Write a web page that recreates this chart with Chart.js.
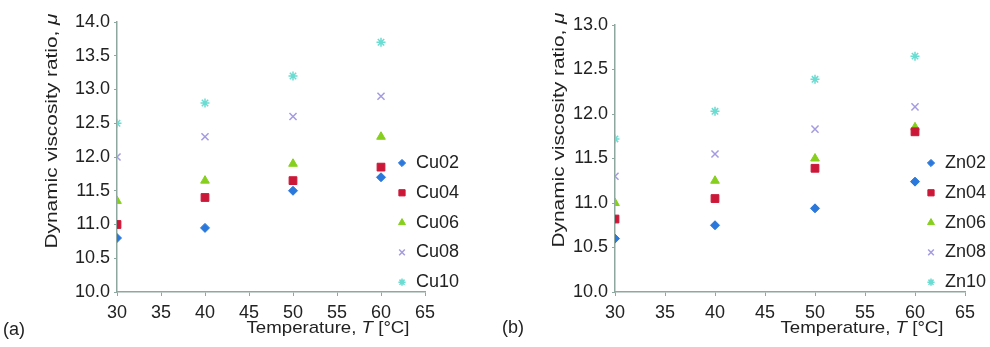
<!DOCTYPE html>
<html>
<head>
<meta charset="utf-8">
<script src="https://cdn.jsdelivr.net/npm/chart.js@4"></script>
<style>
  body { margin: 0; background: #fff; }
  .panel { position: absolute; top: 0; width: 495px; height: 347px; }
</style>
</head>
<body>
<div class="panel" style="left:0"><canvas id="chartA" width="495" height="347"></canvas></div>
<div class="panel" style="left:495px"><canvas id="chartB" width="495" height="347"></canvas></div>
<script>
// Nhiệt độ đo (°C)
const temps = [30, 40, 50, 60];

// Hình (a): hạt Cu
const cuLabels = ['Cu02', 'Cu04', 'Cu06', 'Cu08', 'Cu10'];
const cu02 = [10.8, 10.95, 11.5, 11.7];
const cu04 = [11.0, 11.4, 11.65, 11.85];
const cu06 = [11.35, 11.65, 11.9, 12.3];
const cu08 = [12.0, 12.3, 12.6, 12.9];
const cu10 = [12.5, 12.8, 13.2, 13.7];

// Hình (b): hạt Zn
const znLabels = ['Zn02', 'Zn04', 'Zn06', 'Zn08', 'Zn10'];
const zn02 = [10.6, 10.75, 10.94, 11.24];
const zn04 = [10.82, 11.05, 11.39, 11.8];
const zn06 = [11.0, 11.25, 11.5, 11.85];
const zn08 = [11.3, 11.55, 11.83, 12.08];
const zn10 = [11.72, 12.03, 12.39, 12.65];

const xTicks = [30, 35, 40, 45, 50, 55, 60, 65];

const axisColor = '#8fa89f';
const textColor = '#222';
const fontFamily = '"Liberation Sans", Arial, sans-serif';

// Kiểu điểm cho 5 chuỗi
const markers = [
    { style: 'rectRot', color: '#2a78dc', radius: 4.5 },
    { style: 'rect', color: '#cc1838', radius: 5.5 },
    { style: 'triangle', color: '#86cf1c', radius: 5 },
    { style: 'crossRot', color: '#a49be0', radius: 5 },
    { style: 'star', color: '#6adcd2', radius: 4.5 }
];

function makeDatasets(labels, series) {
    return labels.map((name, i) => ({
        label: name,
        data: temps.map((t, j) => ({ x: t, y: series[i][j] })),
        pointStyle: markers[i].style,
        pointRadius: markers[i].radius,
        pointHoverRadius: markers[i].radius,
        backgroundColor: markers[i].color,
        borderColor: markers[i].color,
        pointBorderWidth: markers[i].style.startsWith('cross') || markers[i].style === 'star' ? 1.5 : 1,
        showLine: false
    }));
}

// Vẽ tiêu đề trục, chú thích và nhãn (a)/(b)
const decorPlugin = {
    id: 'decor',
    afterDraw(chart) {
        const o = chart.options.plugins.decor;
        const ctx = chart.ctx;
        ctx.save();
        ctx.fillStyle = textColor;
        ctx.textBaseline = 'middle';

        // tiêu đề trục y (xoay)
        ctx.save();
        ctx.translate(o.yTitle.x, o.yTitle.y);
        ctx.rotate(-Math.PI / 2);
        drawMixed(ctx, [['Dynamic viscosity ratio, ', false], ['\u03bc', true]], 0, 0, 17, o.yTitle.len);
        ctx.restore();

        // tiêu đề trục x
        drawMixed(ctx, [['Temperature, ', false], ['T', true], [' [\u00b0C]', false]], o.xTitle.x, o.xTitle.y, 17, o.xTitle.len);

        // nhãn hình
        ctx.font = '18px ' + fontFamily;
        ctx.textAlign = 'left';
        ctx.fillText(o.tag.text, o.tag.x, o.tag.y);

        // chú thích
        chart.data.datasets.forEach((ds, i) => {
            const y = o.legend.y0 + i * o.legend.dy;
            drawMarker(ctx, ds, o.legend.x, y);
            ctx.fillStyle = textColor;
            ctx.font = '18px ' + fontFamily;
            ctx.textAlign = 'left';
            ctx.fillText(ds.label, o.legend.x + 14, y);
        });
        ctx.restore();
    }
};

function drawMarker(ctx, ds, x, y) {
    ctx.save();
    ctx.fillStyle = ds.backgroundColor;
    ctx.strokeStyle = ds.borderColor;
    ctx.lineWidth = ds.pointBorderWidth;
    Chart.helpers.drawPoint(ctx, {
        pointStyle: ds.pointStyle,
        radius: ds.pointRadius * 0.8,
        rotation: 0,
        borderWidth: ds.pointBorderWidth
    }, x, y);
    ctx.restore();
}

// Văn bản có phần in nghiêng, căn giữa theo độ dài cho trước
function drawMixed(ctx, parts, cx, cy, size, targetLen) {
    let total = 0;
    parts.forEach(p => {
        ctx.font = (p[1] ? 'italic ' : '') + size + 'px ' + fontFamily;
        total += ctx.measureText(p[0]).width;
    });
    const sx = targetLen ? targetLen / total : 1;
    ctx.save();
    ctx.translate(cx, cy);
    ctx.scale(sx, 1);
    let x = -total / 2;
    ctx.textAlign = 'left';
    parts.forEach(p => {
        ctx.font = (p[1] ? 'italic ' : '') + size + 'px ' + fontFamily;
        ctx.fillText(p[0], x, 0);
        x += ctx.measureText(p[0]).width;
    });
    ctx.restore();
}

function makeOptions(yMin, yMax, yAxisWidth, pad, decor) {
    return {
        responsive: false,
        animation: false,
        layout: { padding: pad },
        plugins: {
            legend: { display: false },
            tooltip: { enabled: false },
            decor: decor
        },
        scales: {
            x: {
                type: 'linear',
                min: 30,
                max: 65,
                afterBuildTicks: s => { s.ticks = xTicks.map(v => ({ value: v })); },
                afterFit: s => { s.height = 55; },
                border: { color: axisColor, width: 1.5 },
                grid: { drawOnChartArea: false, drawTicks: true, tickLength: 4, color: axisColor },
                ticks: { color: textColor, font: { family: fontFamily, size: 18 }, padding: 6, maxRotation: 0 }
            },
            y: {
                min: yMin,
                max: yMax,
                afterFit: s => { s.width = yAxisWidth; },
                border: { color: axisColor, width: 1.5 },
                grid: { drawOnChartArea: false, drawTicks: true, tickLength: 3, color: axisColor },
                ticks: {
                    stepSize: 0.5,
                    color: textColor,
                    font: { family: fontFamily, size: 18 },
                    padding: 4,
                    callback: v => v.toFixed(1)
                }
            }
        }
    };
}

// Biểu đồ (a)
const chartA = new Chart(document.getElementById('chartA').getContext('2d'), {
    type: 'scatter',
    data: { datasets: makeDatasets(cuLabels, [cu02, cu04, cu06, cu08, cu10]) },
    options: makeOptions(10, 14, 117, { left: 0, right: 70, top: 22, bottom: 0 }, {
        yTitle: { x: 52, y: 131, len: 235 },
        xTitle: { x: 328, y: 328, len: 163 },
        tag: { text: '(a)', x: 3, y: 330 },
        legend: { x: 402, y0: 163, dy: 29.8 }
    }),
    plugins: [decorPlugin]
});

// Biểu đồ (b)
const chartB = new Chart(document.getElementById('chartB').getContext('2d'), {
    type: 'scatter',
    data: { datasets: makeDatasets(znLabels, [zn02, zn04, zn06, zn08, zn10]) },
    options: makeOptions(10, 13, 120, { left: 0, right: 25, top: 25, bottom: 0 }, {
        yTitle: { x: 64, y: 130, len: 235 },
        xTitle: { x: 367, y: 328, len: 163 },
        tag: { text: '(b)', x: 7, y: 328 },
        legend: { x: 436, y0: 163, dy: 29.8 }
    }),
    plugins: [decorPlugin]
});
</script>
</body>
</html>
